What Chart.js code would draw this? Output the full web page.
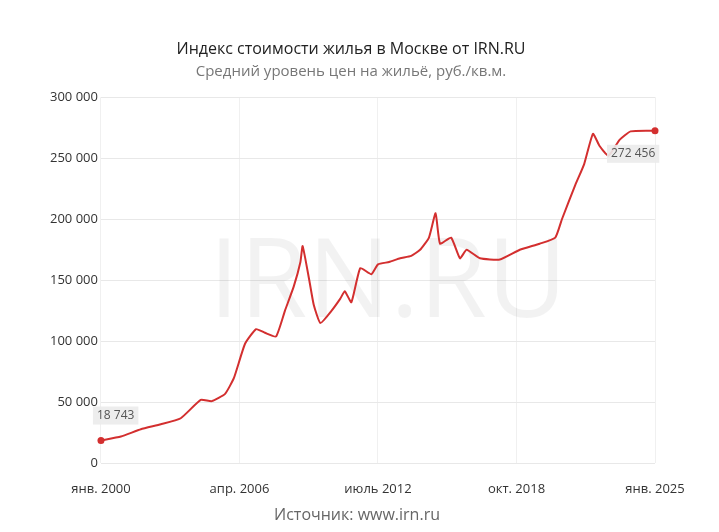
<!DOCTYPE html>
<html><head><meta charset="utf-8">
<script src="https://cdn.jsdelivr.net/npm/chart.js@4/dist/chart.umd.min.js"></script>
<style>html,body{margin:0;background:#fff}#w{width:719px;height:532px;position:relative}</style>
</head><body><div id="w"><canvas id="c"></canvas></div>
<script>
const years=[2000,2000.9,2001.8,2002.7,2003.6,2004.5,2005.0,2005.6,2006.0,2006.5,2007.0,2007.4,2007.9,2008.3,2008.7,2009.0,2009.1,2009.4,2009.6,2009.9,2010.4,2010.8,2011.0,2011.3,2011.7,2012.2,2012.5,2013.0,2013.5,2014.0,2014.4,2014.8,2015.1,2015.3,2015.8,2016.2,2016.5,2017.1,2018.0,2018.9,2019.8,2020.5,2020.8,2021.4,2021.8,2022.2,2022.5,2022.9,2023.4,2023.9,2025.0];
const prices=[18743,22000,28000,32000,37000,52000,51000,57000,70000,98000,110000,107000,104000,125000,145000,165000,178000,150000,130000,115000,125000,135000,141000,132000,160000,155000,163000,165000,168000,170000,175000,185000,205000,180000,185000,168000,175000,168000,167000,175000,180000,185000,200000,228000,245000,270000,260000,252000,265000,272000,272456];
const tickYears=[2000,2006.25,2012.5,2018.75,2025];
const tickLabels=["янв. 2000","апр. 2006","июль 2012","окт. 2018","янв. 2025"];
const fmt=v=>String(Math.round(v)).replace(/\B(?=(\d{3})+(?!\d))/g,' ');
const F='"Open Sans", "DejaVu Sans", sans-serif';
const deco={id:'deco',beforeDatasetsDraw(ch){const c=ch.ctx,a=ch.chartArea;c.save();c.font='110px '+F;c.fillStyle='rgba(0,0,0,0.05)';c.textAlign='center';c.textBaseline='middle';c.fillText('IRN.RU',(a.left+a.right)/2+10,(a.top+a.bottom)/2+5);c.restore();},
afterDatasetsDraw(ch){const c=ch.ctx,x=ch.scales.x,y=ch.scales.y;c.save();c.font='12px '+F;c.textBaseline='middle';
[[0,-1],[years.length-1,1]].forEach(([i,d])=>{const px=x.getPixelForValue(years[i]),py=y.getPixelForValue(prices[i]);const t=fmt(prices[i]);const w=c.measureText(t).width+8;let bx=i==0?px-8:px-48,by=i==0?py-34:py+14;c.fillStyle='rgba(235,235,235,0.9)';c.fillRect(bx,by,w,18);c.fillStyle='#555';c.fillText(t,bx+4,by+9);c.fillStyle='#d32f2f';c.beginPath();c.arc(px,py,3.5,0,7);c.fill();});
c.font='16px '+F;c.fillStyle='#666';c.textAlign='center';c.fillText('Источник: www.irn.ru',357,515);c.restore();}};
new Chart(document.getElementById('c'),{type:'line',data:{datasets:[{data:years.map((v,i)=>({x:v,y:prices[i]})),borderColor:'#d32f2f',borderWidth:2,pointRadius:0,tension:0.15}]},
options:{responsive:true,maintainAspectRatio:false,animation:false,layout:{padding:{left:47,right:64,top:5,bottom:17}},
plugins:{legend:{display:false},tooltip:{enabled:false},title:{display:true,text:'Индекс стоимости жилья в Москве от IRN.RU',color:'#222',font:{family:F,size:16,weight:'normal'},padding:{top:35,bottom:4}},
subtitle:{display:true,text:'Средний уровень цен на жильё, руб./кв.м.',color:'#777',font:{family:F,size:15},padding:{bottom:16}}},
scales:{x:{type:'linear',min:2000,max:2025,afterBuildTicks(s){s.ticks=tickYears.map(v=>({value:v}));},ticks:{callback:(v,i)=>tickLabels[i],color:'#333',font:{family:F,size:13},maxRotation:0,autoSkip:false,padding:18},grid:{color:'#f0f0f0',drawTicks:false},border:{display:false}},
y:{min:0,max:300000,ticks:{stepSize:50000,callback:v=>fmt(v),color:'#333',font:{family:F,size:13}},grid:{color:'#e8e8e8',drawTicks:false},border:{display:false}}}},plugins:[deco]});
</script></body></html>
